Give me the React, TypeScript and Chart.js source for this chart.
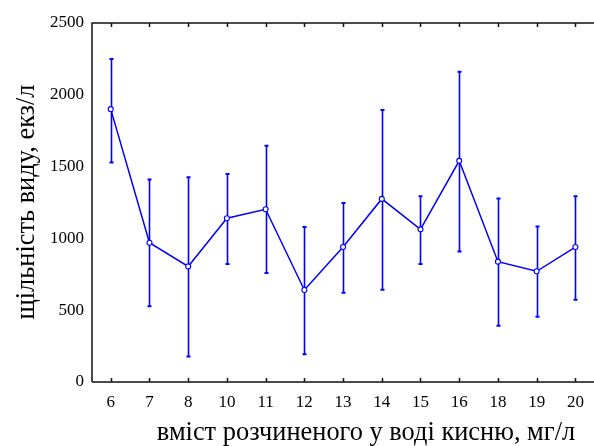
import React, { useEffect, useRef } from "react";
import { Chart, registerables } from "chart.js";

Chart.register(...registerables);

const categories = ["6", "7", "8", "10", "11", "12", "13", "14", "15", "16", "18", "19", "20"];
const means = [1900, 970, 805, 1140, 1203, 641, 940, 1275, 1063, 1540, 838, 771, 940];
const lowers = [1528, 527, 178, 822, 759, 193, 622, 643, 822, 908, 392, 455, 573];
const uppers = [2250, 1410, 1426, 1449, 1646, 1080, 1247, 1895, 1293, 2160, 1277, 1082, 1293];
const yTicks = [0, 500, 1000, 1500, 2000, 2500];
const xTitle = "вміст розчиненого у воді кисню, мг/л";
const yTitle = "щільність виду, екз/л";

const FONT = "'Liberation Serif', 'Times New Roman', serif";
const BLUE = "#0000ff";

const decorPlugin = {
  id: "decor",
  beforeDatasetsDraw(chart: any) {
    const ctx = chart.ctx;
    const x = chart.scales.x;
    const y = chart.scales.y;
    ctx.save();
    ctx.strokeStyle = BLUE;
    means.forEach((_, i) => {
      const px = Math.round(x.getPixelForValue(i)) + 0.5;
      const top = y.getPixelForValue(uppers[i]);
      const bot = y.getPixelForValue(lowers[i]);
      ctx.lineWidth = 1.6;
      ctx.beginPath();
      ctx.moveTo(px, top);
      ctx.lineTo(px, bot);
      ctx.stroke();
      ctx.lineWidth = 2;
      ctx.beginPath();
      ctx.moveTo(px - 2, top);
      ctx.lineTo(px + 2, top);
      ctx.moveTo(px - 2, bot);
      ctx.lineTo(px + 2, bot);
      ctx.stroke();
    });
    ctx.restore();
  },
  afterDraw(chart: any) {
    const ctx = chart.ctx;
    const a = chart.chartArea;
    const x = chart.scales.x;
    ctx.save();
    ctx.strokeStyle = "#111";
    ctx.lineWidth = 1.5;
    ctx.beginPath();
    ctx.moveTo(a.left, a.bottom);
    ctx.lineTo(a.left, a.top);
    ctx.lineTo(chart.width, a.top);
    ctx.moveTo(a.left, a.bottom);
    ctx.lineTo(chart.width, a.bottom);
    ctx.stroke();
    ctx.beginPath();
    categories.forEach((_, i) => {
      const px = Math.round(x.getPixelForValue(i)) + 0.5;
      ctx.moveTo(px, a.bottom);
      ctx.lineTo(px, a.bottom - 4);
      ctx.moveTo(px, a.top);
      ctx.lineTo(px, a.top + 4);
    });
    ctx.stroke();

    ctx.fillStyle = "#000";
    ctx.font = `26.4px ${FONT}`;
    ctx.textAlign = "center";
    ctx.textBaseline = "alphabetic";
    ctx.fillText(xTitle, 366, 440);
    ctx.translate(34, 202);
    ctx.rotate(-Math.PI / 2);
    ctx.fillText(yTitle, 0, 0);
    ctx.restore();
  },
};

export default function App() {
  const ref = useRef<HTMLCanvasElement>(null);
  useEffect(() => {
    if (!ref.current) return;
    const chart = new Chart(ref.current, {
      type: "line",
      data: {
        datasets: [
          {
            data: means.map((m, i) => ({ x: i, y: m })),
            borderColor: BLUE,
            borderWidth: 1.5,
            pointRadius: 2.5,
            pointBorderWidth: 1.1,
            pointBackgroundColor: "#fff",
            pointBorderColor: BLUE,
            tension: 0,
          },
        ],
      },
      options: {
        animation: false,
        responsive: false,
        devicePixelRatio: 1,
        layout: { padding: { left: 0, right: 0, top: 23, bottom: 0 } },
        plugins: { legend: { display: false }, tooltip: { enabled: false } },
        scales: {
          x: {
            type: "linear",
            min: -0.484,
            max: 12.306,
            grid: { display: false, drawTicks: false },
            border: { display: false },
            afterBuildTicks: (s: any) => {
              s.ticks = categories.map((_, i) => ({ value: i }));
            },
            afterFit: (s: any) => {
              s.height = 64;
            },
            ticks: {
              padding: 10,
              color: "#000",
              font: { family: FONT, size: 17 },
              callback: (v: any) => categories[Math.round(Number(v))] ?? "",
              maxRotation: 0,
              autoSkip: false,
            },
          },
          y: {
            min: 0,
            max: 2500,
            grid: { display: false, drawTicks: false },
            border: { display: false },
            afterBuildTicks: (s: any) => {
              s.ticks = yTicks.map((v) => ({ value: v }));
            },
            afterFit: (s: any) => {
              s.width = 92;
            },
            ticks: {
              padding: 8,
              color: "#000",
              font: { family: FONT, size: 17 },
              callback: (v: any) => String(v),
            },
          },
        },
      },
      plugins: [decorPlugin],
    });
    return () => chart.destroy();
  }, []);
  return (
    <div style={{ position: "absolute", left: 0, top: 0, width: 594, height: 446, background: "#fff" }}>
      <canvas ref={ref} width={594} height={446} style={{ width: 594, height: 446 }} />
    </div>
  );
}
